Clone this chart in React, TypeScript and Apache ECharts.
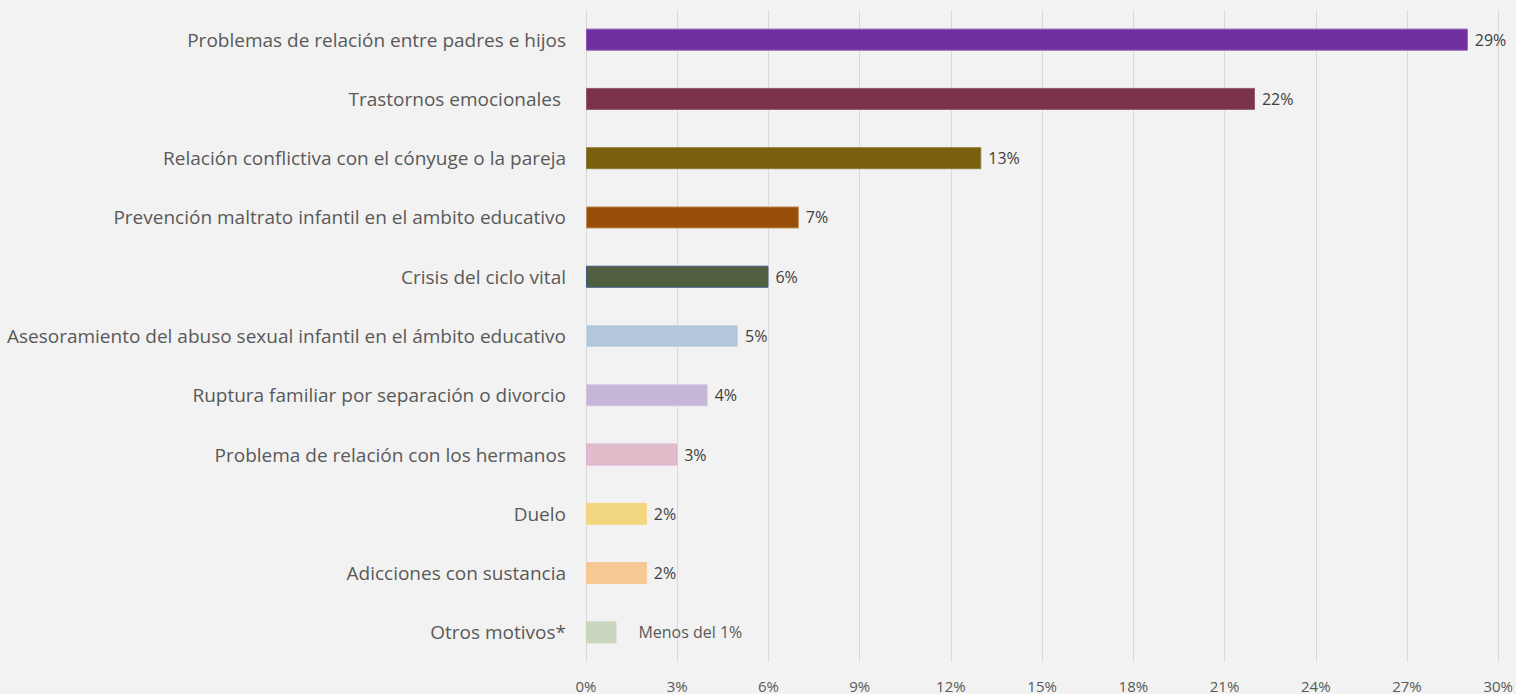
import React, { useEffect, useRef } from "react";
import * as echarts from "echarts";

const categories = [
  "Problemas de relación entre padres e hijos",
  "Trastornos emocionales ",
  "Relación conflictiva con el cónyuge o la pareja",
  "Prevención maltrato infantil en el ambito educativo",
  "Crisis del ciclo vital",
  "Asesoramiento del abuso sexual infantil en el ámbito educativo",
  "Ruptura familiar por separación o divorcio",
  "Problema de relación con los hermanos",
  "Duelo",
  "Adicciones con sustancia",
  "Otros motivos*",
];
const values = [29, 22, 13, 7, 6, 5, 4, 3, 2, 2, 1];
const valueLabels = ["29%", "22%", "13%", "7%", "6%", "5%", "4%", "3%", "2%", "2%", "Menos del 1%"];
const colors = [
  "#7030a0", "#7b334c", "#7a600d", "#974f07", "#4f5f3f",
  "#b4c6dc", "#c5b6d8", "#e3bccb", "#f2d780", "#f8c894", "#cad5bf",
];
const borderColors = [
  "#8a55b5", "#93586c", "#8f7a3a", "#c08a55", "#3d5a80",
  "#c5d3e6", "#d3c6e3", "#d9b0d0", "#f2d780", "#f8c894", "#cad5bf",
];

export default function App() {
  const ref = useRef<HTMLDivElement>(null);
  useEffect(() => {
    const chart = echarts.init(ref.current!, undefined, { renderer: "svg" });
    const n = categories.length;
    const data = values.map((v, i) => ({
      value: v,
      itemStyle: { color: colors[i], borderColor: borderColors[i], borderWidth: 1 },
      label:
        i === n - 1
          ? { distance: 22, fontSize: 16, color: "#595959" }
          : undefined,
    }));
    chart.setOption({
      animation: false,
      backgroundColor: "#f2f2f2",
      grid: { left: 586, right: 16, top: 10, bottom: 32, containLabel: false },
      xAxis: {
        type: "value",
        min: 0,
        max: 30,
        interval: 3,
        axisLine: { show: false },
        axisTick: { show: false },
        splitLine: { show: true, lineStyle: { color: "#d9d9d9", width: 1 } },
        axisLabel: {
          formatter: (v: number) => v + "%",
          color: "#595959",
          fontSize: 15,
          fontFamily: "Open Sans",
          margin: 16,
        },
      },
      yAxis: {
        type: "category",
        inverse: true,
        data: categories,
        axisLine: { show: false },
        axisTick: { show: false },
        axisLabel: {
          color: "#595959",
          fontSize: 19,
          fontFamily: "Open Sans",
          margin: 20,
        },
      },
      series: [
        {
          type: "bar",
          data,
          barWidth: 22,
          label: {
            show: true,
            position: "right",
            distance: 7,
            fontSize: 16,
            fontFamily: "Open Sans",
            color: "#404040",
            formatter: (p: any) => valueLabels[p.dataIndex],
          },
        },
      ],
    });
    return () => chart.dispose();
  }, []);
  return (
    <div
      ref={ref}
      style={{ position: "absolute", left: 0, top: 0, width: 1516, height: 694 }}
    />
  );
}
